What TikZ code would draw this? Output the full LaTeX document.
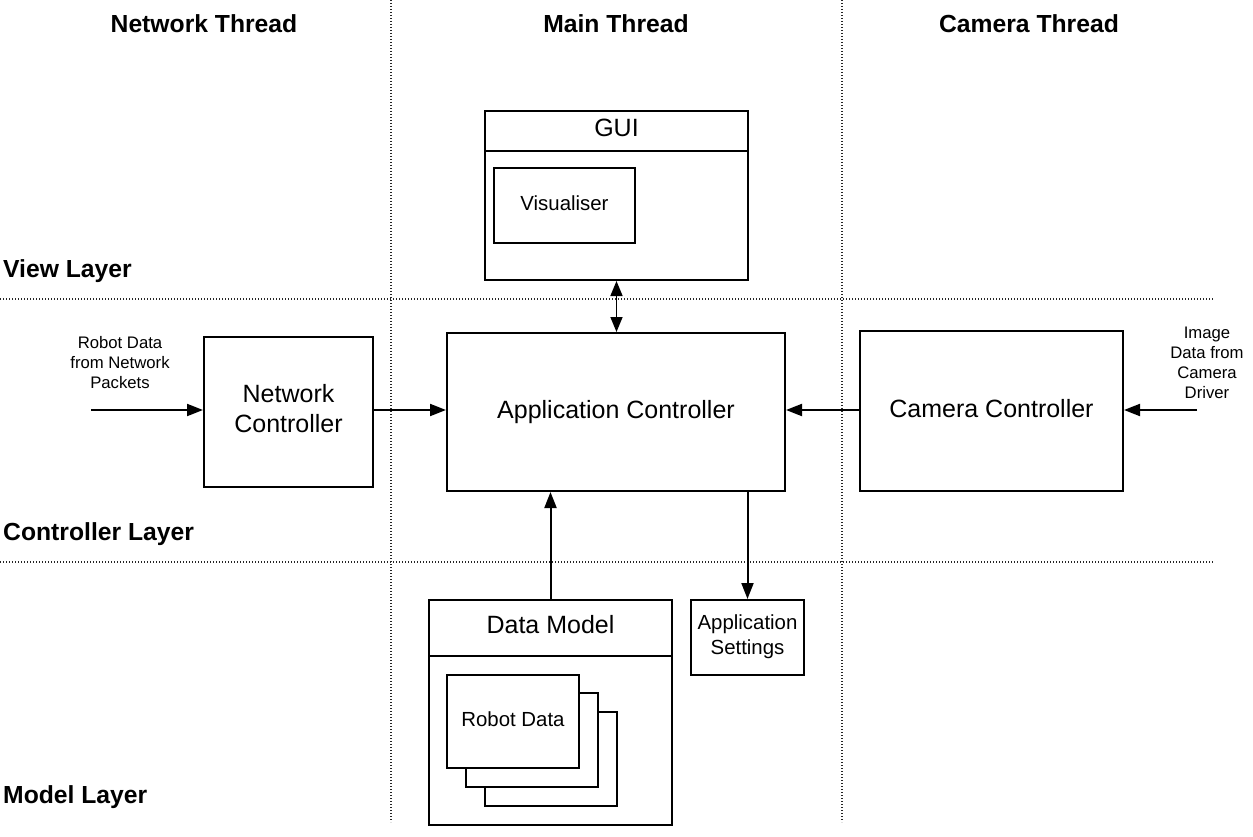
\documentclass[tikz,border=0pt]{standalone}
\usepackage{fontspec}
\setmainfont{Liberation Sans}
\usetikzlibrary{arrows.meta}
\tikzset{
  box/.style={draw, line width=2pt, fill=white, inner sep=0pt},
  stackbox/.style={draw, line width=1.6pt, fill=white, inner sep=0pt},
  big/.style={font=\fontsize{25}{30}\selectfont, inner sep=0pt, align=center},
  mid/.style={font=\fontsize{20.4}{25}\selectfont, inner sep=0pt, align=center},
  small/.style={font=\fontsize{16.7}{20}\selectfont, inner sep=0pt, align=center},
  head/.style={font=\fontsize{24.7}{29}\selectfont\bfseries, inner sep=0pt},
  sep/.style={line width=1.2pt, dash pattern=on 1.2pt off 1.8pt, black!85},
  arr/.style={line width=2pt, -{Triangle[length=16pt,width=12pt]}},
  darr/.style={line width=1.6pt, {Triangle[length=15pt,width=12pt]}-{Triangle[length=15pt,width=12pt]}}
}
\begin{document}
\begin{tikzpicture}[x=1pt,y=-1pt]
\useasboundingbox (0,0) rectangle (1253,837);
% separators
\draw[sep] (391,0) -- (391,822);
\draw[sep] (842,0) -- (842,822);
\draw[sep] (0,299) -- (1213,299);
\draw[sep] (0,562) -- (1213,562);
% headers
\node[head] (hnet) at (204,24) {Network Thread};
\node[head] (hmain) at (616,24) {Main Thread};
\node[head] (hcam) at (1029,24) {Camera Thread};
\node[head, anchor=base west] (lview) at (3,277) {View Layer};
\node[head, anchor=base west] (lctrl) at (3,540) {Controller Layer};
\node[head, anchor=base west] (lmodel) at (3,803) {Model Layer};
% GUI
\node[box, minimum width=263pt, minimum height=169pt] (gui) at (616.5,195.5) {};
\draw[line width=2pt] (gui.west |- 0,151) -- (gui.east |- 0,151);
\node[big] (guit) at (616.5,128) {GUI};
\node[box, minimum width=141pt, minimum height=75pt] (vis) at (564.5,205.5) {};
\node[mid] (vist) at (564.5,203) {Visualiser};
% Application controller
\node[box, minimum width=338pt, minimum height=158pt] (ac) at (616,412) {};
\node[big, anchor=base] (act) at (616,418) {Application Controller};
% Network controller
\node[box, minimum width=169pt, minimum height=150pt] (nc) at (288.5,412) {};
\node[big] (nct) at (288.5,409) {Network\\Controller};
% Camera controller
\node[box, minimum width=263pt, minimum height=160pt] (cc) at (991.5,411) {};
\node[big, anchor=base] (cct) at (991.5,417) {Camera Controller};
% Data model
\node[box, minimum width=243pt, minimum height=225pt] (dm) at (550.5,712.5) {};
\draw[line width=2pt] (dm.west |- 0,656) -- (dm.east |- 0,656);
\node[big] (dmt) at (550.5,625) {Data Model};
\node[stackbox, minimum width=132pt, minimum height=94pt] (rd3) at (551,759) {};
\node[stackbox, minimum width=132pt, minimum height=94pt] (rd2) at (532,740) {};
\node[box, minimum width=132pt, minimum height=93pt] (rd1) at (513,721.5) {};
\node[mid] (rdt) at (513,719) {Robot Data};
% Application settings
\node[box, minimum width=113pt, minimum height=75pt] (as) at (747.5,637.5) {};
\node[mid] (ast) at (747.5,637) {Application\\Settings};
% external labels
\node[small] (nlbl) at (120,363) {Robot Data\\from Network\\Packets};
\node[small] (clbl) at (1207,362.5) {Image\\Data from\\Camera\\Driver};
\coordinate (nin) at (91,410);
\coordinate (cin) at (1197,410);
% connectors
\draw[arr] (nin) -- (nin -| nc.west);
\draw[arr] ([yshift=2pt]nc.east) -- ([yshift=2pt]nc.east -| ac.west);
\draw[arr] (cin) -- (cin -| cc.east);
\draw[arr] ([yshift=1pt]cc.west) -- ([yshift=1pt]cc.west -| ac.east);
\draw[arr] (dm.north) -- (dm.north |- ac.south);
\draw[arr] (as.north |- ac.south) -- (as.north);
\draw[darr] (gui.south) -- (gui.south |- ac.north);
\end{tikzpicture}
\end{document}
